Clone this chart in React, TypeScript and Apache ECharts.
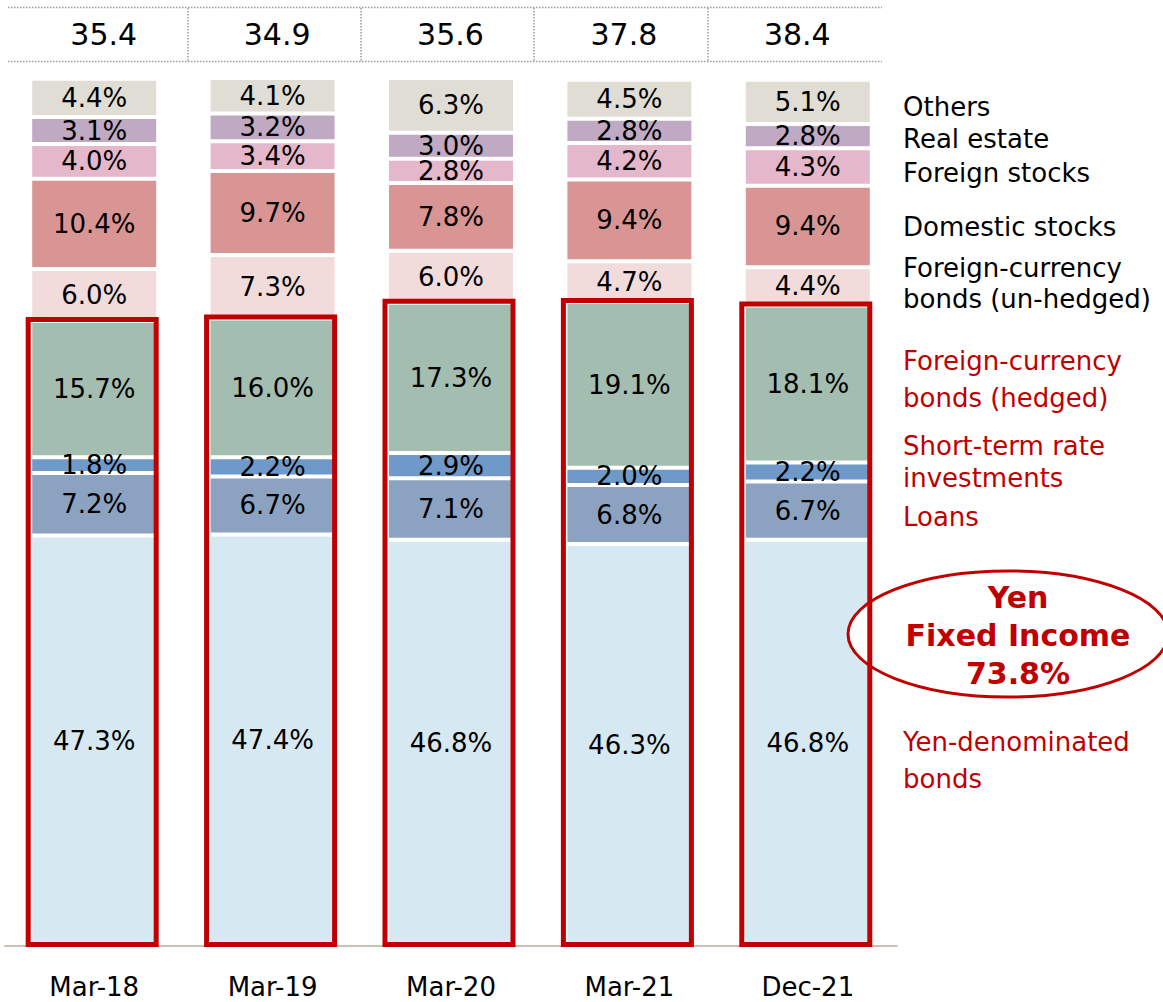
import React, { useEffect, useRef } from "react";
import * as echarts from "echarts";

const categories = ["Mar-18", "Mar-19", "Mar-20", "Mar-21", "Dec-21"];
const totals = [35.4, 34.9, 35.6, 37.8, 38.4];

const yenBonds = [47.3, 47.4, 46.8, 46.3, 46.8];
const loans = [7.2, 6.7, 7.1, 6.8, 6.7];
const shortTerm = [1.8, 2.2, 2.9, 2.0, 2.2];
const hedged = [15.7, 16.0, 17.3, 19.1, 18.1];
const unhedged = [6.0, 7.3, 6.0, 4.7, 4.4];
const domesticStocks = [10.4, 9.7, 7.8, 9.4, 9.4];
const foreignStocks = [4.0, 3.4, 2.8, 4.2, 4.3];
const realEstate = [3.1, 3.2, 3.0, 2.8, 2.8];
const others = [4.4, 4.1, 6.3, 4.5, 5.1];

const seriesDefs = [
  { name: "Yen-denominated bonds", data: yenBonds, color: "#d6e8f2" },
  { name: "Loans", data: loans, color: "#8ba3c1" },
  { name: "Short-term rate investments", data: shortTerm, color: "#6f99c9" },
  { name: "Foreign-currency bonds (hedged)", data: hedged, color: "#a3bdb0" },
  { name: "Foreign-currency bonds (un-hedged)", data: unhedged, color: "#f2dbdb" },
  { name: "Domestic stocks", data: domesticStocks, color: "#d99594" },
  { name: "Foreign stocks", data: foreignStocks, color: "#e5b7cb" },
  { name: "Real estate", data: realEstate, color: "#bfa9c3" },
  { name: "Others", data: others, color: "#e0ddd5" },
];

// right-side legend texts: [text, y center, red?]
const legendLines: [string, number, boolean][] = [
  ["Others", 107, false],
  ["Real estate", 139, false],
  ["Foreign stocks", 173, false],
  ["Domestic stocks", 227, false],
  ["Foreign-currency", 268, false],
  ["bonds (un-hedged)", 299, false],
  ["Foreign-currency", 361, true],
  ["bonds (hedged)", 398, true],
  ["Short-term rate", 446, true],
  ["investments", 478, true],
  ["Loans", 517, true],
  ["Yen-denominated", 742, true],
  ["bonds", 779, true],
];

const RED = "#c00000";
const FONT = "DejaVu Sans";

const fixedIncome = categories.map(
  (_, i) => yenBonds[i] + loans[i] + shortTerm[i] + hedged[i]
);

export default function App() {
  const ref = useRef<HTMLDivElement>(null);
  useEffect(() => {
    if (!ref.current) return;
    const chart = echarts.init(ref.current, undefined, { renderer: "svg" });
    const barSeries = seriesDefs.map((s) => ({
      name: s.name,
      type: "bar",
      stack: "total",
      xAxisIndex: 0,
      yAxisIndex: 0,
      barWidth: 128,
      data: s.data,
      itemStyle: { color: s.color, borderColor: "#ffffff", borderWidth: 2 },
      label: {
        show: true,
        position: "inside",
        formatter: (p: any) => Number(p.value).toFixed(1) + "%",
        color: "#000",
        fontFamily: FONT,
        fontSize: 26,
      },
      emphasis: { disabled: true },
    }));

    const lastFixed = fixedIncome[fixedIncome.length - 1];

    const option: any = {
      animation: false,
      grid: [
        { left: 5, width: 892, top: 78, height: 868 },
        { left: 14, width: 867, top: 8, height: 53 },
      ],
      xAxis: [
        {
          type: "category",
          gridIndex: 0,
          data: categories,
          axisLine: { show: true, lineStyle: { color: "#c8c1b5", width: 2 } },
          axisTick: { show: false },
          axisLabel: {
            color: "#000",
            fontFamily: FONT,
            fontSize: 26,
            margin: 28,
          },
        },
        {
          type: "category",
          gridIndex: 1,
          data: categories,
          axisLine: { show: false },
          axisTick: { show: false },
          axisLabel: { show: false },
          splitLine: {
            show: true,
            showMinLine: false,
            showMaxLine: false,
            lineStyle: { color: "#9a9a9a", type: [1.5, 1.5], width: 1.5 },
          },
        },
      ],
      yAxis: [
        { type: "value", gridIndex: 0, min: 0, max: 100, show: false },
        { type: "value", gridIndex: 1, min: -1, max: 1, show: false },
      ],
      series: [
        ...barSeries,
        {
          type: "custom",
          name: "Yen fixed income",
          xAxisIndex: 0,
          yAxisIndex: 0,
          z: 10,
          data: fixedIncome.map((v, i) => [i, v]),
          renderItem: (params: any, api: any) => {
            const idx = api.value(0);
            const top = api.coord([idx, api.value(1)]);
            const bottom = api.coord([idx, 0]);
            return {
              type: "rect",
              shape: {
                x: top[0] - 66,
                y: top[1] - 1.5,
                width: 128,
                height: bottom[1] - top[1],
              },
              style: { fill: "none", stroke: RED, lineWidth: 5 },
            };
          },
        },
        {
          type: "scatter",
          name: "Totals",
          xAxisIndex: 1,
          yAxisIndex: 1,
          symbolSize: 0,
          data: totals.map((v, i) => [i, 0, v]),
          label: {
            show: true,
            position: "inside",
            offset: [3, 0],
            formatter: (p: any) => Number(p.value[2]).toFixed(1),
            color: "#000",
            opacity: 1,
            fontFamily: FONT,
            fontSize: 30,
          },
          itemStyle: { opacity: 1 },
          emphasis: { disabled: true },
        },
      ],
      graphic: [
        {
          type: "line",
          shape: { x1: 8, y1: 7.5, x2: 882, y2: 7.5 },
          style: { stroke: "#9a9a9a", lineWidth: 1.5, lineDash: [1.5, 1.5] },
        },
        {
          type: "line",
          shape: { x1: 8, y1: 61.5, x2: 882, y2: 61.5 },
          style: { stroke: "#9a9a9a", lineWidth: 1.5, lineDash: [1.5, 1.5] },
        },
        ...legendLines.map(([t, y, red]) => ({
          type: "text",
          x: 903,
          y,
          style: {
            text: t,
            fill: red ? RED : "#000",
            font: `26px "${FONT}"`,
            textVerticalAlign: "middle",
            verticalAlign: "middle",
          },
        })),
        {
          type: "ellipse",
          shape: { cx: 1008, cy: 634, rx: 160, ry: 63 },
          style: { fill: "#ffffff", stroke: RED, lineWidth: 3 },
          z: 5,
        },
        {
          type: "text",
          x: 1018,
          y: 635,
          z: 6,
          style: {
            text: "Yen\nFixed Income\n" + lastFixed.toFixed(1) + "%",
            fill: RED,
            font: `bold 30px "${FONT}"`,
            lineHeight: 38,
            align: "center",
            textAlign: "center",
            verticalAlign: "middle",
            textVerticalAlign: "middle",
          },
        },
      ],
    };
    chart.setOption(option);
    return () => chart.dispose();
  }, []);
  return (
    <div
      ref={ref}
      style={{ position: "fixed", left: 0, top: 0, width: 1163, height: 1002, background: "#fff" }}
    />
  );
}
